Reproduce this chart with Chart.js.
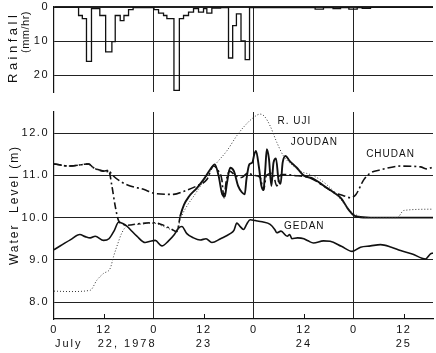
<!DOCTYPE html>
<html><head><meta charset="utf-8">
<script src="https://cdn.jsdelivr.net/npm/chart.js@4/dist/chart.umd.min.js"></script>
<style>
html,body{margin:0;padding:0;background:#fff;}
#wrap{position:relative;width:436px;height:353px;overflow:hidden;background:#fff;}
canvas{position:absolute;left:0;}
#c1{top:0;} #c2{top:100px;}
</style></head><body>
<div id="wrap"><canvas id="c1" width="436" height="100"></canvas><canvas id="c2" width="436" height="253"></canvas></div>
<script>
// ---------- DATA ----------
const xMax = 91;                       // hours from July 22, 0:00
const hourTicks = [0, 12, 24, 36, 48, 60, 72, 84];
const hourTickLabels = ['0', '12', '0', '12', '0', '12', '0', '12'];
const dayLineHours = [24, 48, 72];
const minorTickHours = [12, 36, 60, 84];
const dateLabels = ['July   22, 1978', '23', '24', '25'];
const dateLabelHours = [0, 36, 60, 84];

const rainTicks = [0, 10, 20];
const levelTicks = [8, 9, 10, 11, 12];

// Rainfall (mm/hr): value holds from rainHours[i] to rainHours[i+1]
const rainHours = [0, 5.9, 6.8, 7.8, 9.0, 11.0, 12.4, 13.9, 14.7, 15.9, 16.8, 17.9, 19.0, 24.0, 25.1, 26.3, 27.1, 28.8, 30.1, 31.1, 32.3, 33.5, 34.7, 35.9, 36.7, 37.9, 40.0, 41.9, 42.9, 43.8, 44.9, 45.9, 46.95, 62.7, 64.7, 67.0, 68.8, 70.8, 72.8, 74.0, 76.0, 91];
const rainMM    = [0, 2.5, 3.4, 16.0, 0.5, 2.5, 13.2, 10.2, 2.5, 4.0, 2.5, 0.8, 0.2, 0.8, 1.8, 2.5, 3.4, 24.5, 3.4, 2.5, 1.5, 0.5, 1.5, 0.5, 1.8, 0.3, 0.2, 15.0, 5.5, 2.0, 10.0, 15.5, 0.2, 0.6, 0.2, 0.5, 0.2, 0.6, 0.2, 0.4, 0, 0];

// Water level (m)
const rujiHours = [0, 4, 8.7, 10.3, 11.9, 13.5, 14.3, 15.1, 16.3, 17.5, 20, 24, 26, 28, 29.5, 30.3, 31.9, 33.5, 35.9, 37.5, 39.1, 41.5, 43.9, 45.5, 47.9, 49.5, 50.5, 51.9, 53.5, 55.1, 57.5, 59.1, 61.5, 63.9, 67.1, 69.5, 71.2, 72.8, 75, 82.4, 84, 91];
const rujiLevel = [8.26, 8.25, 8.28, 8.52, 8.68, 8.8, 9.08, 9.32, 9.64, 9.8, 9.84, 9.87, 9.8, 9.72, 9.65, 9.95, 10.27, 10.5, 10.86, 11.1, 11.3, 11.58, 11.94, 12.14, 12.37, 12.45, 12.4, 12.17, 11.78, 11.46, 11.22, 11.1, 11.02, 10.9, 10.63, 10.35, 10.15, 10.05, 10.0, 10.0, 10.17, 10.2];

const joudanHours = [0, 3.8, 8.3, 9.5, 11.9, 12.6, 13.1, 13.9, 14.7, 15.5, 16.5, 17.5, 20, 22, 24, 26, 28, 29.5, 30.3, 31.2, 32.4, 34.3, 35.9, 37.5, 38.6, 39.5, 40.4, 41.0, 41.5, 42.3, 43.2, 44.2, 45.1, 45.8, 46.2, 46.9, 47.6, 48.1, 48.5, 49.2, 49.8, 50.3, 50.7, 51.1, 51.6, 52.2, 52.7, 53.3, 53.9, 54.4, 54.9, 55.6, 56.5, 58.3, 59.9, 62.3, 64.7, 67.1, 69.0, 70.5, 71.8, 73, 76, 91];
const joudanLevel = [11.27, 11.22, 11.27, 11.18, 11.1, 11.08, 11.12, 10.75, 10.27, 9.93, 9.85, 9.82, 9.85, 9.87, 9.88, 9.83, 9.74, 9.67, 10.03, 10.3, 10.5, 10.7, 10.9, 11.14, 11.26, 11.0, 10.55, 10.5, 10.8, 11.18, 11.1, 10.75, 10.6, 10.55, 10.9, 11.26, 11.3, 11.5, 11.58, 11.2, 10.75, 10.65, 11.1, 11.62, 11.4, 10.75, 11.3, 11.4, 10.9, 10.8, 11.3, 11.46, 11.35, 11.18, 11.0, 10.92, 10.76, 10.6, 10.45, 10.22, 10.07, 10.02, 10.0, 10.0];

const chudanHours = [0, 3.8, 8.3, 9.5, 11.9, 13.1, 13.9, 15.9, 18.3, 21.5, 24.3, 28.7, 31.1, 34.3, 36.7, 38.3, 39.5, 40.3, 40.8, 41.4, 42.2, 43.5, 45, 46.5, 48, 49.5, 50.3, 51, 52.5, 53.5, 54.3, 55, 57.5, 61.5, 64.7, 67.1, 69.5, 71.2, 72.5, 74.4, 76, 78.4, 83.2, 88, 89.6, 91];
const chudanLevel = [11.27, 11.22, 11.27, 11.18, 11.1, 11.12, 11.02, 10.86, 10.75, 10.67, 10.57, 10.55, 10.62, 10.75, 10.9, 11.22, 11.1, 10.9, 10.47, 10.9, 11.1, 11.0, 10.95, 11.05, 11.0, 10.95, 10.65, 11.0, 11.05, 10.75, 11.0, 11.02, 11.0, 10.94, 10.75, 10.6, 10.52, 10.47, 10.55, 10.9, 11.06, 11.13, 11.22, 11.2, 11.15, 11.2];

const gedanHours = [0, 2, 4, 6.2, 7.5, 8.7, 9.9, 11.9, 13.2, 14.5, 15.5, 16.5, 17.5, 18.3, 19.9, 21.9, 23.1, 24.3, 25.9, 27.5, 28.9, 29.9, 30.7, 31.9, 33.5, 35.1, 36.5, 37.9, 40, 42.3, 43.2, 43.9, 44.6, 45.5, 46.3, 47.1, 48.3, 50, 51.9, 53, 53.5, 54.5, 56, 56.6, 57.1, 58.5, 60, 61, 62.3, 64.7, 66.3, 69, 71.6, 73.6, 76, 78.4, 81, 83.2, 86, 89.2, 90.4, 91];
const gedanLevel = [9.24, 9.36, 9.48, 9.6, 9.55, 9.52, 9.56, 9.46, 9.5, 9.7, 9.89, 9.86, 9.8, 9.72, 9.56, 9.41, 9.44, 9.46, 9.33, 9.45, 9.6, 9.75, 9.79, 9.62, 9.52, 9.47, 9.5, 9.41, 9.5, 9.62, 9.7, 9.87, 9.8, 9.72, 9.85, 9.95, 9.93, 9.9, 9.84, 9.72, 9.64, 9.68, 9.56, 9.6, 9.5, 9.52, 9.5, 9.45, 9.4, 9.45, 9.44, 9.32, 9.2, 9.3, 9.33, 9.36, 9.3, 9.22, 9.14, 9.02, 9.14, 9.16];

const seriesNames = ['R. UJI', 'JOUDAN', 'CHUDAN', 'GEDAN'];
// ---------- LAYOUT / STYLE ----------
const nameAnchorHour = [57.7, 62.5, 80.8, 60.1];
const nameAnchorLevel = [12.29, 11.79, 11.5, 9.79];
const INK = '#111';
const FONT = "'Liberation Sans', Arial, sans-serif";
Chart.defaults.font.family = FONT;
Chart.defaults.color = INK;

const pts = (hs, vs) => hs.map((h, i) => ({x: h, y: vs[i]}));
const spacing = {
  id: 'spacing',
  beforeInit(c) { c.ctx.letterSpacing = '1.5px'; },
  beforeUpdate(c) { c.ctx.letterSpacing = '1.5px'; },
  beforeDraw(c) { c.ctx.letterSpacing = '1.5px'; }
};
const dayGrid = ctx => (dayLineHours.includes(ctx.tick && ctx.tick.value) ? '#222' : 'rgba(0,0,0,0)');
const fitY = s => { s.width = 54; s.paddingTop = 0; s.paddingBottom = 0; };

// ---------- TOP: rainfall ----------
const deco1 = {
  id: 'deco1',
  afterDraw(c) {
    const ctx = c.ctx;
    ctx.save();
    ctx.fillStyle = INK;
    ctx.textBaseline = 'middle';
    ctx.translate(13, 12);
    ctx.rotate(-Math.PI / 2);
    ctx.font = '13px ' + FONT;
    ctx.letterSpacing = '3.5px';
    ctx.textAlign = 'left';
    ctx.fillText('Rainfall', -71, 0);
    ctx.restore();
    ctx.save();
    ctx.fillStyle = INK;
    ctx.textBaseline = 'middle';
    ctx.translate(26, 12);
    ctx.rotate(-Math.PI / 2);
    ctx.font = '11px ' + FONT;
    ctx.letterSpacing = '0.5px';
    ctx.textAlign = 'left';
    ctx.fillText('(mm/hr)', -41, 0);
    ctx.restore();
  }
};

new Chart(document.getElementById('c1'), {
  type: 'line',
  data: {datasets: [{
    data: pts(rainHours, rainMM), stepped: true, borderColor: INK, borderWidth: 1.3,
    pointRadius: 0, fill: false
  }]},
  options: {
    responsive: false, animation: false, devicePixelRatio: 1,
    layout: {padding: {top: 7, right: 3, left: 0, bottom: 0}},
    plugins: {legend: {display: false}, tooltip: {enabled: false}},
    scales: {
      x: {
        type: 'linear', min: 0, max: xMax,
        afterBuildTicks: s => { s.ticks = dayLineHours.map(v => ({value: v})); },
        ticks: {display: false},
        grid: {color: '#222', lineWidth: 1, drawTicks: false},
        border: {display: false},
        afterFit: s => { s.height = 8; }
      },
      y: {
        reverse: true, min: 0, max: 25,
        afterBuildTicks: s => { s.ticks = rainTicks.map(v => ({value: v})); },
        ticks: {padding: 5, font: {size: 11}, color: INK},
        grid: {color: '#222', lineWidth: c => (c.tick && c.tick.value === 0 ? 2 : 1), drawTicks: false},
        border: {display: true, color: INK, width: 1.2},
        afterFit: fitY
      }
    }
  },
  plugins: [spacing, deco1]
});

// ---------- BOTTOM: water level ----------
const deco2 = {
  id: 'deco2',
  afterDraw(c) {
    const ctx = c.ctx, x = c.scales.x, y = c.scales.y;
    ctx.save();
    ctx.strokeStyle = INK; ctx.fillStyle = INK; ctx.lineWidth = 1;
    minorTickHours.forEach(h => {
      const px = Math.round(x.getPixelForValue(h)) + 0.5;
      ctx.beginPath(); ctx.moveTo(px, y.bottom); ctx.lineTo(px, y.bottom - 5); ctx.stroke();
    });
    ctx.font = '10px ' + FONT;
    ctx.letterSpacing = '1px';
    ctx.textAlign = 'center'; ctx.textBaseline = 'middle';
    seriesNames.forEach((n, i) => ctx.fillText(n, x.getPixelForValue(nameAnchorHour[i]), y.getPixelForValue(nameAnchorLevel[i])));
    ctx.font = '11px ' + FONT;
    ctx.letterSpacing = '2px';
    dateLabels.forEach((t, i) => {
      const px = x.getPixelForValue(dateLabelHours[i]);
      if (i === 0) { ctx.textAlign = 'left'; ctx.fillText(t, px + 1, 244); }
      else { ctx.textAlign = 'center'; ctx.fillText(t, px, 244); }
    });
    ctx.restore();
    ctx.save();
    ctx.fillStyle = INK;
    ctx.translate(15, 105);
    ctx.rotate(-Math.PI / 2);
    ctx.font = '12px ' + FONT;
    ctx.letterSpacing = '2px';
    ctx.textAlign = 'center'; ctx.textBaseline = 'middle';
    ctx.fillText('Water  Level (m)', 0, 0);
    ctx.restore();
  }
};

const lineDs = (hs, vs, extra) => Object.assign({
  data: pts(hs, vs), borderColor: INK, pointRadius: 0, fill: false,
  cubicInterpolationMode: 'monotone'
}, extra);

new Chart(document.getElementById('c2'), {
  type: 'line',
  data: {datasets: [
    lineDs(rujiHours, rujiLevel, {borderWidth: 1, borderDash: [1, 2], borderColor: '#333'}),
    lineDs(chudanHours, chudanLevel, {borderWidth: 1.6, borderDash: [8, 3, 2, 3]}),
    lineDs(joudanHours, joudanLevel, {borderWidth: 1.9,
      segment: {
        borderDash: s => (s.p0.parsed.x < 30 ? [7, 3, 2, 3] : undefined),
        borderWidth: s => (s.p0.parsed.x < 30 ? 1.6 : 1.9)
      }}),
    lineDs(gedanHours, gedanLevel, {borderWidth: 1.6})
  ]},
  options: {
    responsive: false, animation: false, devicePixelRatio: 1,
    layout: {padding: {top: 12, right: 3, left: 0, bottom: 0}},
    plugins: {legend: {display: false}, tooltip: {enabled: false}},
    scales: {
      x: {
        type: 'linear', min: 0, max: xMax,
        afterBuildTicks: s => { s.ticks = hourTicks.map(v => ({value: v})); },
        ticks: {padding: 4, font: {size: 11}, color: INK, maxRotation: 0, autoSkip: false,
          callback: (v, i) => hourTickLabels[i]},
        grid: {color: dayGrid, lineWidth: 1, drawTicks: false},
        border: {display: true, color: INK, width: 1.3},
        afterFit: s => { s.height = 34; }
      },
      y: {
        min: 7.6, max: 12.5,
        afterBuildTicks: s => { s.ticks = levelTicks.map(v => ({value: v})); },
        ticks: {padding: 5, font: {size: 11}, color: INK, callback: v => Number(v).toFixed(1)},
        grid: {color: '#222', lineWidth: 1, drawTicks: false},
        border: {display: true, color: INK, width: 1.2},
        afterFit: fitY
      }
    }
  },
  plugins: [spacing, deco2]
});
</script>
</body></html>
